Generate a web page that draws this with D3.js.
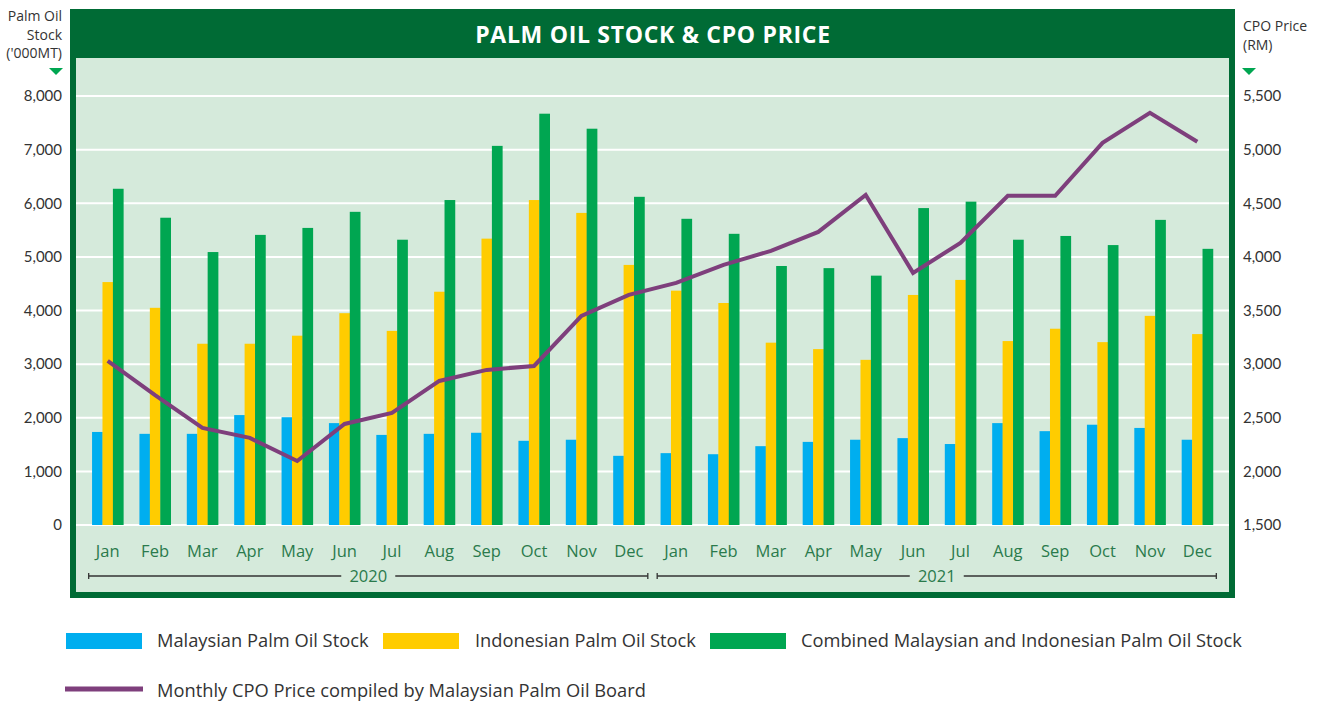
<!DOCTYPE html>
<html>
<head>
<meta charset="utf-8">
<script src="https://cdn.jsdelivr.net/npm/d3@7"></script>
<style>
  body { margin: 0; background: #fff; }
  svg { display: block; font-family: "Open Sans", Lato, sans-serif; }
</style>
</head>
<body>
<svg id="chart" width="1321" height="702"></svg>
<script>
const months = ["Jan","Feb","Mar","Apr","May","Jun","Jul","Aug","Sep","Oct","Nov","Dec"];
const years = ["2020", "2021"];
const malaysian = [1735,1700,1700,2050,2010,1900,1680,1700,1720,1570,1590,1290,
                   1340,1320,1470,1550,1590,1620,1510,1900,1750,1870,1810,1590];
const indonesian = [4530,4050,3380,3380,3530,3950,3620,4350,5340,6060,5820,4850,
                    4370,4140,3400,3280,3080,4290,4570,3430,3660,3410,3900,3560];
const combined = [6270,5730,5090,5410,5540,5840,5320,6060,7070,7670,7390,6120,
                  5710,5430,4830,4790,4650,5910,6030,5320,5390,5220,5690,5150];
const cpoPrice = [3030,2710,2405,2312,2097,2442,2545,2843,2946,2983,3450,3646,
                  3757,3925,4056,4233,4578,3851,4130,4569,4569,5063,5343,5073];
const leftTicks = [0,1000,2000,3000,4000,5000,6000,7000,8000];
const rightTicks = [1500,2000,2500,3000,3500,4000,4500,5000,5500];

const seriesNames = ["Malaysian Palm Oil Stock","Indonesian Palm Oil Stock","Combined Malaysian and Indonesian Palm Oil Stock"];
const seriesColors = ["#00aeef","#ffcc00","#00a651"];
const darkGreen = "#006b35";
const lineColor = "#7e3f7c";

const svg = d3.select("#chart");

// categories: one per month over both years
const cats = [];
years.forEach(y => months.forEach(m => cats.push(y + "-" + m)));

const x = d3.scaleBand().domain(cats).range([84, 1221]).paddingInner(0.34).paddingOuter(0.17);
const xSub = d3.scaleBand().domain([0,1,2]).range([0, x.bandwidth()]);
const yL = d3.scaleLinear().domain([0, 8000]).range([525, 96]);
const yR = d3.scaleLinear().domain([1500, 5500]).range([525, 96]);

// frame
svg.append("rect").attr("x", 70).attr("y", 9).attr("width", 1165).attr("height", 589).attr("fill", darkGreen);
svg.append("rect").attr("x", 76).attr("y", 58).attr("width", 1153).attr("height", 534).attr("fill", "#d5eadb");

svg.append("text")
  .attr("x", 653).attr("y", 43)
  .attr("text-anchor", "middle")
  .attr("fill", "#fff")
  .attr("font-size", 23).attr("font-weight", "bold")
  .attr("letter-spacing", 0.7)
  .text("PALM OIL STOCK & CPO PRICE");

// gridlines
svg.append("g").selectAll("line").data(leftTicks).join("line")
  .attr("x1", 76).attr("x2", 1229)
  .attr("y1", d => yL(d)).attr("y2", d => yL(d))
  .attr("stroke", "#fff").attr("stroke-width", 2);

// axes
const leftAxis = svg.append("g").attr("transform", "translate(62,0)")
  .call(d3.axisLeft(yL).tickValues(leftTicks).tickSize(0).tickPadding(0).tickFormat(d3.format(",")));
const rightAxis = svg.append("g").attr("transform", "translate(1243,0)")
  .call(d3.axisRight(yR).tickValues(rightTicks).tickSize(0).tickPadding(0).tickFormat(d3.format(",")));
[leftAxis, rightAxis].forEach(a => {
  a.select(".domain").remove();
  a.selectAll("text").attr("font-size", 15).attr("fill", "#333").attr("font-family", "Lato, sans-serif");
});

// axis titles
svg.append("text").attr("text-anchor", "end").attr("font-size", 14).attr("fill", "#333")
  .selectAll("tspan").data(["Palm Oil","Stock","('000MT)"]).join("tspan")
  .attr("x", 62).attr("y", (d, i) => 21 + i * 18.5).text(d => d);
svg.append("text").attr("font-size", 14).attr("fill", "#333")
  .selectAll("tspan").data(["CPO Price","(RM)"]).join("tspan")
  .attr("x", 1243).attr("y", (d, i) => 31 + i * 19).text(d => d);
svg.append("path").attr("d", "M49,68 L63,68 L56,75 Z").attr("fill", "#00a651");
svg.append("path").attr("d", "M1242,68 L1256,68 L1249,75 Z").attr("fill", "#00a651");

// bars
const series = [malaysian, indonesian, combined];
series.forEach((vals, s) => {
  svg.append("g").selectAll("rect").data(vals).join("rect")
    .attr("x", (d, i) => x(cats[i]) + xSub(s))
    .attr("width", xSub.bandwidth() + 0.3)
    .attr("y", d => yL(d))
    .attr("height", d => yL(0) - yL(d))
    .attr("fill", seriesColors[s]);
});

// price line
const line = d3.line()
  .x((d, i) => x(cats[i]) + x.bandwidth() / 2)
  .y(d => yR(d));
svg.append("path").datum(cpoPrice)
  .attr("d", line)
  .attr("fill", "none")
  .attr("stroke", lineColor)
  .attr("stroke-width", 4)
  .attr("stroke-linejoin", "miter");

// month labels
svg.append("g").selectAll("text").data(cats).join("text")
  .attr("x", d => x(d) + x.bandwidth() / 2)
  .attr("y", 557)
  .attr("text-anchor", "middle")
  .attr("font-size", 16.5)
  .attr("fill", "#2a7a4c")
  .text(d => d.split("-")[1]);

// year brackets
years.forEach(yr => {
  const first = yr + "-Jan", last = yr + "-Dec";
  const x0 = x(first) + x.bandwidth() / 2 - 19;
  const x1 = x(last) + x.bandwidth() / 2 + 19;
  const mid = (x0 + x1) / 2;
  const g = svg.append("g");
  g.append("line").attr("x1", x0).attr("x2", mid - 27).attr("y1", 576).attr("y2", 576);
  g.append("line").attr("x1", mid + 27).attr("x2", x1).attr("y1", 576).attr("y2", 576);
  g.append("line").attr("x1", x0).attr("x2", x0).attr("y1", 573).attr("y2", 579);
  g.append("line").attr("x1", x1).attr("x2", x1).attr("y1", 573).attr("y2", 579);
  g.selectAll("line").attr("stroke", "#333").attr("stroke-width", 1.3);
  g.append("text").attr("x", mid).attr("y", 582).attr("text-anchor", "middle")
    .attr("font-size", 16.5).attr("fill", "#2a7a4c").text(yr);
});

// legend
const legend = svg.append("g").attr("font-size", 18.3).attr("fill", "#333");
const legendPos = [{sx: 66, tx: 157}, {sx: 383, tx: 475}, {sx: 710, tx: 801}];
seriesNames.forEach((name, i) => {
  legend.append("rect").attr("x", legendPos[i].sx).attr("y", 633).attr("width", 76).attr("height", 16)
    .attr("fill", seriesColors[i]);
  legend.append("text").attr("x", legendPos[i].tx).attr("y", 647).text(name);
});
legend.append("line").attr("x1", 65).attr("x2", 143).attr("y1", 689).attr("y2", 689)
  .attr("stroke", lineColor).attr("stroke-width", 5);
legend.append("text").attr("x", 157).attr("y", 697).text("Monthly CPO Price compiled by Malaysian Palm Oil Board");
</script>
</body>
</html>
